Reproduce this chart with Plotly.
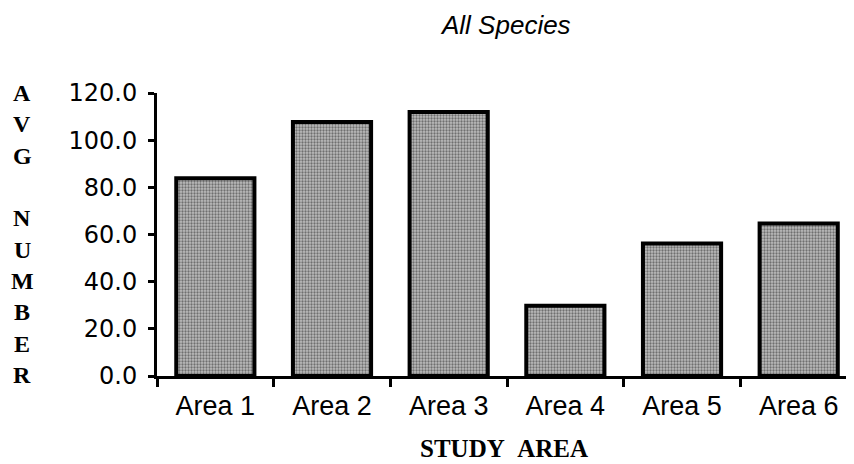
import plotly.graph_objects as go

categories = ["Area 1", "Area 2", "Area 3", "Area 4", "Area 5", "Area 6"]
avg_number = [83.8, 107.7, 111.9, 29.8, 56.2, 64.7]
y_ticks = [0, 20, 40, 60, 80, 100, 120]
y_title_letters = ["A", "V", "G", "", "N", "U", "M", "B", "E", "R"]

# page body has an 8px margin, so the figure is placed at (8, 8) on screen
OFF = 8
W, H = 854 - OFF, 464 - OFF
L, R, T = 157 - OFF, 0, 93 - OFF
B = H - (376 - OFF)
PW, PH = W - L - R, H - T - B


def px_x(sx):
    return (sx - OFF - L) / PW


def px_y(sy):
    return 1 - (sy - OFF - T) / PH


fig = go.Figure()
fig.add_trace(go.Bar(
    x=categories, y=avg_number, width=0.67,
    marker=dict(color="#b0b0b0",
                line=dict(color="black", width=4),
                pattern=dict(shape=".", fgcolor="#222222", bgcolor="#bcbcbc",
                             size=3, solidity=0.45)),
))

annotations = [
    dict(text="<i>All Species</i>", xref="paper", yref="paper",
         x=px_x(505), y=px_y(OFF),
         showarrow=False, xanchor="center", yanchor="top",
         font=dict(size=26, family="Liberation Sans, Arial, sans-serif")),
    dict(text="<b>STUDY&nbsp;&nbsp;AREA</b>", xref="paper", yref="paper",
         x=px_x(504), y=px_y(464),
         showarrow=False, xanchor="center", yanchor="bottom",
         font=dict(size=25, family="Liberation Serif, Times New Roman, serif")),
]
step = (375 - 93) / (len(y_title_letters) - 1)
for i, letter in enumerate(y_title_letters):
    if not letter:
        continue
    annotations.append(dict(
        text="<b>%s</b>" % letter, xref="paper", yref="paper",
        x=px_x(22), y=px_y(93 + i * step),
        showarrow=False, xanchor="center", yanchor="middle",
        font=dict(size=24, family="Liberation Serif, Times New Roman, serif")))

fig.update_layout(
    width=W, height=H, autosize=False,
    margin=dict(l=L, r=R, t=T, b=B, pad=0),
    plot_bgcolor="white", paper_bgcolor="white",
    showlegend=False,
    font=dict(family="Liberation Sans, Arial, sans-serif", color="black"),
    xaxis=dict(type="category", range=[-0.5, 5.474],
               showline=True, linecolor="black", linewidth=3,
               ticks="outside", ticklen=8, tickwidth=2.5, tickcolor="black",
               tickson="boundaries", showgrid=False,
               tickfont=dict(size=27), ticklabelstandoff=4),
    yaxis=dict(range=[0, 120], tickvals=y_ticks, tickformat=".1f",
               showline=True, linecolor="black", linewidth=3,
               ticks="outside", ticklen=6, tickwidth=2.5, tickcolor="black",
               showgrid=False, zeroline=False,
               tickfont=dict(family="DejaVu Sans, sans-serif", size=24),
               ticklabelstandoff=6),
    annotations=annotations,
)

fig.write_html("out.html")
